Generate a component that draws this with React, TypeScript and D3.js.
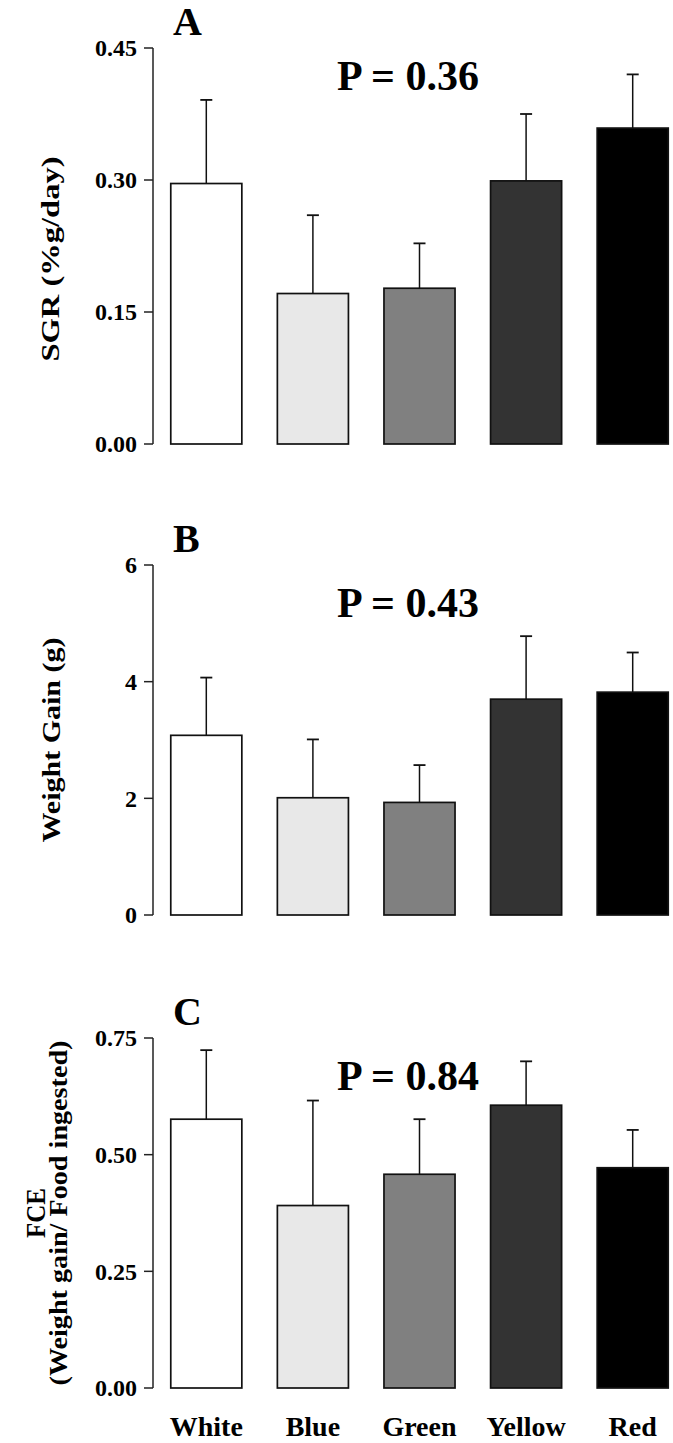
import React from "react";
import * as d3 from "d3";

const categories = ["White", "Blue", "Green", "Yellow", "Red"];
const barFills = ["#ffffff", "#e8e8e8", "#808080", "#333333", "#000000"];

const sgrMean = [0.296, 0.171, 0.177, 0.299, 0.359];
const sgrSE = [0.095, 0.089, 0.051, 0.076, 0.061];
const sgrTicks = [0, 0.15, 0.3, 0.45];

const wgMean = [3.08, 2.01, 1.93, 3.7, 3.82];
const wgSE = [0.99, 1.0, 0.64, 1.08, 0.68];
const wgTicks = [0, 2, 4, 6];

const fceMean = [0.576, 0.391, 0.458, 0.606, 0.472];
const fceSE = [0.148, 0.225, 0.118, 0.094, 0.081];
const fceTicks = [0, 0.25, 0.5, 0.75];

const FONT = "'Liberation Serif', 'Times New Roman', serif";

type PanelSpec = {
  letter: string;
  pText: string;
  mean: number[];
  se: number[];
  ticks: number[];
  fmt: (v: number) => string;
  yTop: number;
  yBottom: number;
  titleLines: { text: string; x: number; length?: number; size: number }[];
  titleCy: number;
};

const panels: PanelSpec[] = [
  {
    letter: "A",
    pText: "P = 0.36",
    mean: sgrMean,
    se: sgrSE,
    ticks: sgrTicks,
    fmt: d3.format(".2f"),
    yTop: 48,
    yBottom: 444,
    titleLines: [{ text: "SGR (%g/day)", x: 59, length: 205, size: 25 }],
    titleCy: 259,
  },
  {
    letter: "B",
    pText: "P = 0.43",
    mean: wgMean,
    se: wgSE,
    ticks: wgTicks,
    fmt: d3.format("d"),
    yTop: 565,
    yBottom: 915,
    titleLines: [{ text: "Weight Gain (g)", x: 60, length: 205, size: 25 }],
    titleCy: 740,
  },
  {
    letter: "C",
    pText: "P = 0.84",
    mean: fceMean,
    se: fceSE,
    ticks: fceTicks,
    fmt: d3.format(".2f"),
    yTop: 1038,
    yBottom: 1388,
    titleLines: [
      { text: "FCE", x: 45, length: 50, size: 27 },
      { text: "(Weight gain/ Food ingested)", x: 67, length: 345, size: 25 },
    ],
    titleCy: 1213,
  },
];

const AXIS_X = 153;

function Panel({ p }: { p: PanelSpec }) {
  const x = d3
    .scaleBand<string>()
    .domain(categories)
    .range([AXIS_X, 686])
    .paddingInner(1 / 3)
    .paddingOuter(1 / 6);
  const maxTick = p.ticks[p.ticks.length - 1];
  const y = d3.scaleLinear().domain([0, maxTick]).range([p.yBottom, p.yTop]);
  const bw = x.bandwidth();
  return (
    <g>
      <text
        x={173}
        y={p.yTop - 13}
        fontFamily={FONT}
        fontWeight="bold"
        fontSize={40}
        fill="#000"
      >
        {p.letter}
      </text>
      <line x1={AXIS_X} x2={AXIS_X} y1={y(maxTick)} y2={y(0)} stroke="#222" strokeWidth={1.5} />
      {p.ticks.map((t) => (
        <g key={t}>
          <line x1={AXIS_X - 9} x2={AXIS_X} y1={y(t)} y2={y(t)} stroke="#222" strokeWidth={1.5} />
          <text
            x={AXIS_X - 16}
            y={y(t)}
            dy="0.35em"
            textAnchor="end"
            fontFamily={FONT}
            fontWeight="bold"
            fontSize={24}
            fill="#000"
          >
            {p.fmt(t)}
          </text>
        </g>
      ))}
      {p.titleLines.map((l, i) => (
        <text
          key={i}
          transform={`translate(${l.x},${p.titleCy}) rotate(-90)`}
          textAnchor="middle"
          fontFamily={FONT}
          fontWeight="bold"
          fontSize={l.size}
          textLength={l.length}
          lengthAdjust="spacingAndGlyphs"
          fill="#000"
        >
          {l.text}
        </text>
      ))}
      {categories.map((c, i) => {
        const cx = (x(c) as number) + bw / 2;
        const top = y(p.mean[i] + p.se[i]);
        return (
          <g key={"e" + c}>
            <line x1={cx} x2={cx} y1={y(p.mean[i])} y2={top} stroke="#111" strokeWidth={1.5} />
            <line x1={cx - 6} x2={cx + 6} y1={top} y2={top} stroke="#111" strokeWidth={1.8} />
          </g>
        );
      })}
      {categories.map((c, i) => (
        <rect
          key={c}
          x={x(c) as number}
          y={y(p.mean[i])}
          width={bw}
          height={y(0) - y(p.mean[i])}
          fill={barFills[i]}
          stroke="#111"
          strokeWidth={1.7}
        />
      ))}
      <text
        x={408}
        y={p.yTop + (p.letter === "A" ? 42 : 52)}
        textAnchor="middle"
        fontFamily={FONT}
        fontWeight="bold"
        fontSize={42}
        fill="#000"
      >
        {p.pText}
      </text>
    </g>
  );
}

export default function App() {
  const x = d3
    .scaleBand<string>()
    .domain(categories)
    .range([AXIS_X, 686])
    .paddingInner(1 / 3)
    .paddingOuter(1 / 6);
  return (
    <svg
      width={673}
      height={1443}
      style={{ position: "absolute", left: 0, top: 0, background: "#fff" }}
    >
      <rect width={673} height={1443} fill="#fff" />
      {panels.map((p) => (
        <Panel key={p.letter} p={p} />
      ))}
      {categories.map((c) => (
        <text
          key={c}
          x={(x(c) as number) + x.bandwidth() / 2}
          y={1436}
          textAnchor="middle"
          fontFamily={FONT}
          fontWeight="bold"
          fontSize={28}
          fill="#000"
        >
          {c}
        </text>
      ))}
    </svg>
  );
}
